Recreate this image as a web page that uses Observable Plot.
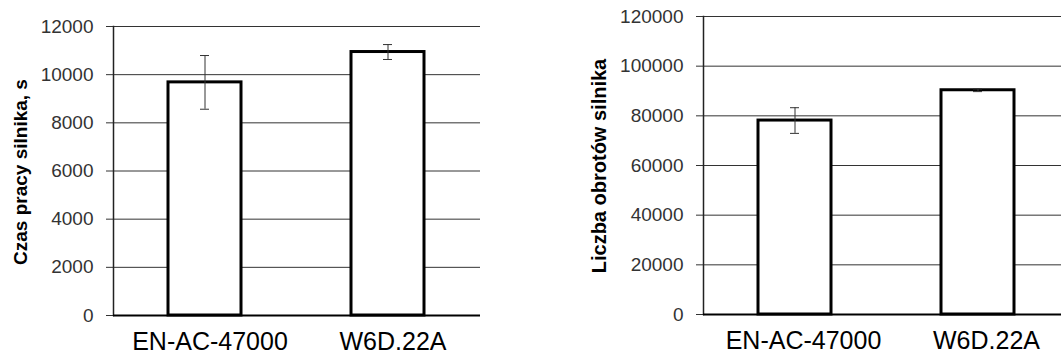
<!DOCTYPE html>
<html>
<head>
<meta charset="utf-8">
<script src="https://cdn.jsdelivr.net/npm/d3@7"></script>
<script src="https://cdn.jsdelivr.net/npm/@observablehq/plot@0.6"></script>
<style>
  html, body { margin: 0; padding: 0; background: #ffffff; }
  #page { position: relative; width: 1061px; height: 356px; overflow: hidden; background: #ffffff;
          font-family: "Liberation Sans", Arial, sans-serif; }
  .panel { position: absolute; top: 0; width: 490px; height: 356px; }
  .panel svg { max-width: none !important; }
  .ylabel { position: absolute; white-space: nowrap; font-weight: bold; line-height: 1;
            color: #000; transform: translate(-50%, -50%) rotate(-90deg); }
</style>
</head>
<body>
<div id="page">
  <div class="panel" id="p1" style="left:0px"></div>
  <div class="panel" id="p2" style="left:590px"></div>
  <div class="ylabel" id="l1" style="left:20px; top:172px; font-size:19px">Czas pracy silnika, s</div>
  <div class="ylabel" id="l2" style="left:599px; top:166px; font-size:20px">Liczba obrotów silnika</div>
</div>
<script>
const categories = ["EN-AC-47000", "W6D.22A"];
const timeMean = [9680, 10940];
const timeErr = [1115, 310];
const revMean = [78100, 90300];
const revErr = [5170, 550];
const timeTicks = [0, 2000, 4000, 6000, 8000, 10000, 12000];
const revTicks = [0, 20000, 40000, 60000, 80000, 100000, 120000];

function panel({means, errs, ticks, marginTop, marginBottom, tickPad, dx}) {
  const data = categories.map((c, i) => ({cat: c, v: means[i], e: errs[i]}));
  return Plot.plot({
    width: 490,
    height: 356,
    marginLeft: 113,
    marginRight: 10,
    marginTop,
    marginBottom,
    style: {fontFamily: "'Liberation Sans', Arial, sans-serif", background: "transparent", overflow: "visible", maxWidth: "none"},
    x: {type: "band", domain: categories, paddingInner: 0.6, paddingOuter: 0.3, axis: null},
    y: {domain: [ticks[0], ticks[ticks.length - 1]], axis: null},
    marks: [
      Plot.ruleY(ticks, {stroke: "#333", strokeWidth: 1}),
      Plot.axisY({ticks, tickSize: 7, tickPadding: 13, tickFormat: d => String(d), fontSize: 19, color: "#333", label: null}),
      Plot.barY(data, {x: "cat", y: "v", fill: "white", stroke: "black", strokeWidth: 3}),
      Plot.ruleX(data, {x: "cat", y1: d => d.v - d.e, y2: d => d.v + d.e, stroke: "#333", strokeWidth: 1}),
      Plot.tickY(data, {x: "cat", y: d => d.v - d.e, insetLeft: 32, insetRight: 32, stroke: "#333", strokeWidth: 1}),
      Plot.tickY(data, {x: "cat", y: d => d.v + d.e, insetLeft: 32, insetRight: 32, stroke: "#333", strokeWidth: 1}),
      Plot.frame({anchor: "left", stroke: "#222", strokeWidth: 1.5}),
      Plot.ruleY([0], {stroke: "black", strokeWidth: 2}),
      Plot.axisX({tickSize: 0, tickPadding: tickPad, fontSize: 25, color: "black", dx, label: null})
    ]
  });
}

document.getElementById("p1").append(panel({
  means: timeMean, errs: timeErr, ticks: timeTicks,
  marginTop: 26, marginBottom: 41, tickPad: 17, dx: 5
}));
document.getElementById("p2").append(panel({
  means: revMean, errs: revErr, ticks: revTicks,
  marginTop: 16, marginBottom: 42, tickPad: 17, dx: 8.5
}));
</script>
</body>
</html>
